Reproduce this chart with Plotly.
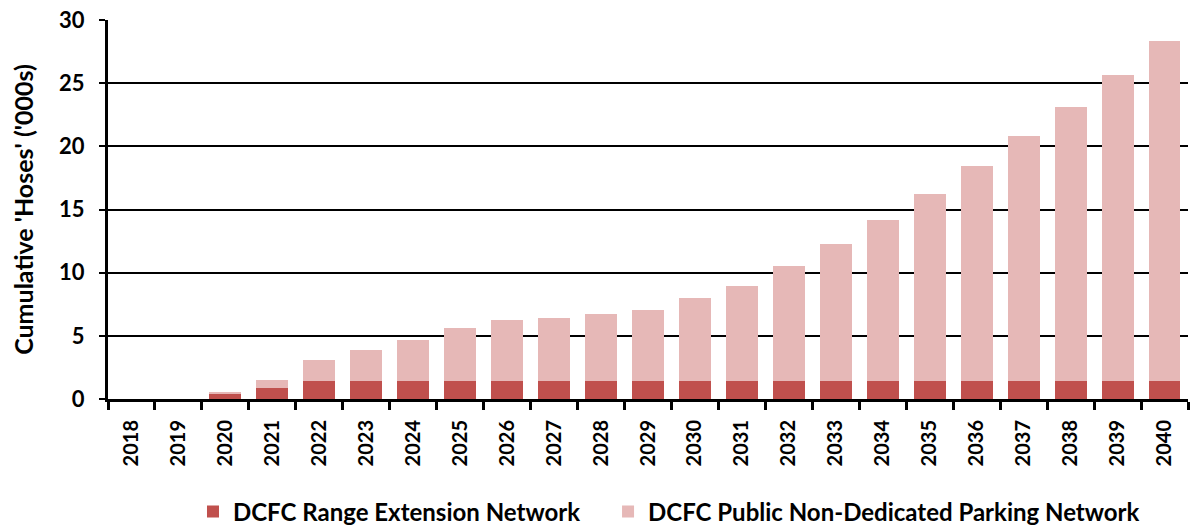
import plotly.graph_objects as go

years = [str(y) for y in range(2018, 2041)]

# Cumulative hoses ('000s), by network
range_extension = [0, 0, 0.45, 0.9, 1.4, 1.4, 1.4, 1.4, 1.4, 1.4, 1.4, 1.4,
                   1.4, 1.4, 1.4, 1.4, 1.4, 1.4, 1.4, 1.4, 1.4, 1.4, 1.4]
totals = [0, 0, 0.58, 1.53, 3.11, 3.9, 4.7, 5.62, 6.26, 6.42, 6.76, 7.07,
          8.03, 8.95, 10.52, 12.26, 14.17, 16.23, 18.43, 20.79, 23.15, 25.67, 28.37]
public_parking = [round(t - r, 2) for t, r in zip(totals, range_extension)]

RED = "#C0504D"
PINK = "#E6B8B7"
FONT = "Lato"

fig = go.Figure()
fig.add_trace(go.Bar(x=years, y=range_extension, name="DCFC Range Extension Network",
                     marker=dict(color=RED, line=dict(width=0)), legend="legend"))
fig.add_trace(go.Bar(x=years, y=public_parking, name="DCFC Public Non-Dedicated Parking Network",
                     marker=dict(color=PINK, line=dict(width=0)), legend="legend2"))

legend_style = dict(orientation="h", xanchor="left", y=-0.298, yanchor="middle",
                    font=dict(family=FONT, size=24, color="black", weight="bold"),
                    itemwidth=30, itemsizing="constant", bgcolor="rgba(0,0,0,0)")

fig.update_layout(
    barmode="stack",
    bargap=0.32,
    width=1192, height=530,
    margin=dict(l=108, r=4, t=20, b=131, autoexpand=False),
    plot_bgcolor="white", paper_bgcolor="white",
    font=dict(family=FONT, color="black"),
    showlegend=True,
    legend=dict(x=0.0787, **legend_style),
    legend2=dict(x=0.463, **legend_style),
    xaxis=dict(
        type="category",
        showline=True, linecolor="black", linewidth=3,
        ticks="outside", tickson="boundaries", ticklen=8, tickwidth=3, tickcolor="black",
        tickangle=-90, ticklabelstandoff=10,
        tickfont=dict(family=FONT, size=20, color="black", weight="bold"),
        showgrid=False,
    ),
    yaxis=dict(
        range=[0, 30], tickvals=[0, 5, 10, 15, 20, 25, 30],
        showline=True, linecolor="black", linewidth=3,
        ticks="outside", ticklen=6, tickwidth=2, tickcolor="black",
        ticklabelstandoff=10,
        showgrid=True, gridcolor="black", gridwidth=2,
        zeroline=False,
        tickfont=dict(family=FONT, size=22, color="black", weight="bold"),
        title=dict(text="Cumulative 'Hoses' ('000s)", standoff=19,
                   font=dict(family=FONT, size=25, color="black", weight="bold")),
    ),
)

fig.write_html("out.html")
